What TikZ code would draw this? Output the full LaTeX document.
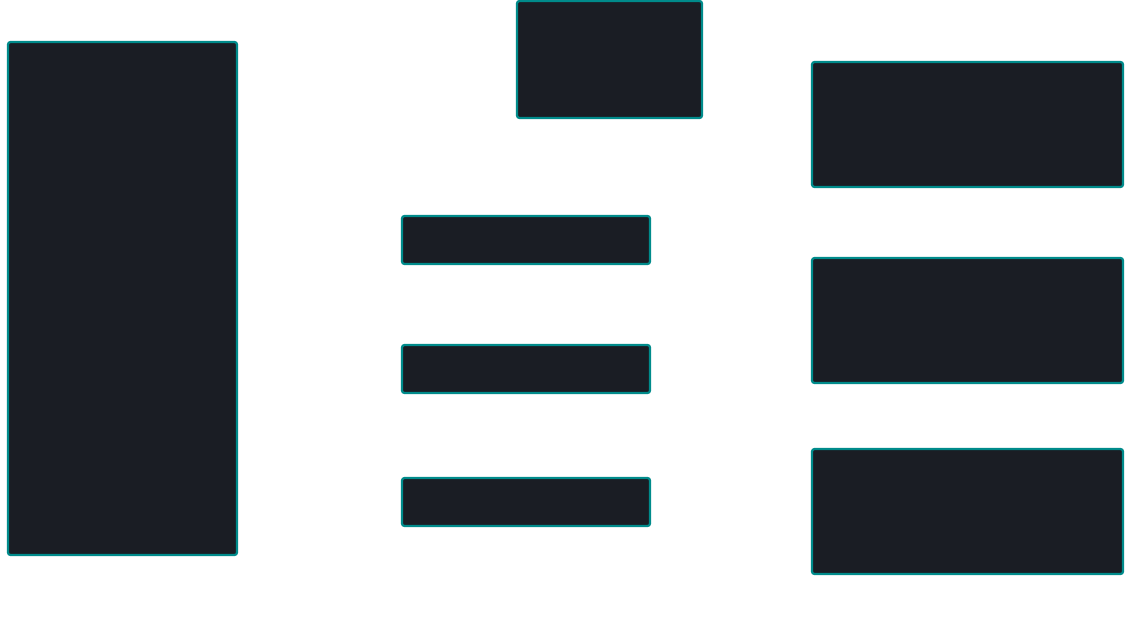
\documentclass[tikz,border=0pt]{standalone}
\definecolor{boxfill}{RGB}{26,29,36}
\definecolor{boxedge}{RGB}{0,139,139}
\tikzset{
  panel/.style={draw=boxedge, fill=boxfill, line width=2.2pt, rounded corners=2.5pt,
    inner sep=0pt, outer sep=0pt, anchor=north west}
}
\begin{document}
\begin{tikzpicture}[x=1pt,y=-1pt]
\useasboundingbox (0,0) rectangle (1140,640);
% left tall panel
\node[panel, minimum width=229pt, minimum height=513pt] (left) at (8,42) {};
% top centre panel
\node[panel, minimum width=185pt, minimum height=117pt] (top) at (517,1) {};
% middle column
\node[panel, minimum width=248pt, minimum height=48pt] (midA) at (402,216) {};
\node[panel, minimum width=248pt, minimum height=48pt] (midB) at (402,345) {};
\node[panel, minimum width=248pt, minimum height=48pt] (midC) at (402,478) {};
% right column
\node[panel, minimum width=311pt, minimum height=125pt] (rightA) at (812,62) {};
\node[panel, minimum width=311pt, minimum height=125pt] (rightB) at (812,258) {};
\node[panel, minimum width=311pt, minimum height=125pt] (rightC) at (812,449) {};
\end{tikzpicture}
\end{document}
